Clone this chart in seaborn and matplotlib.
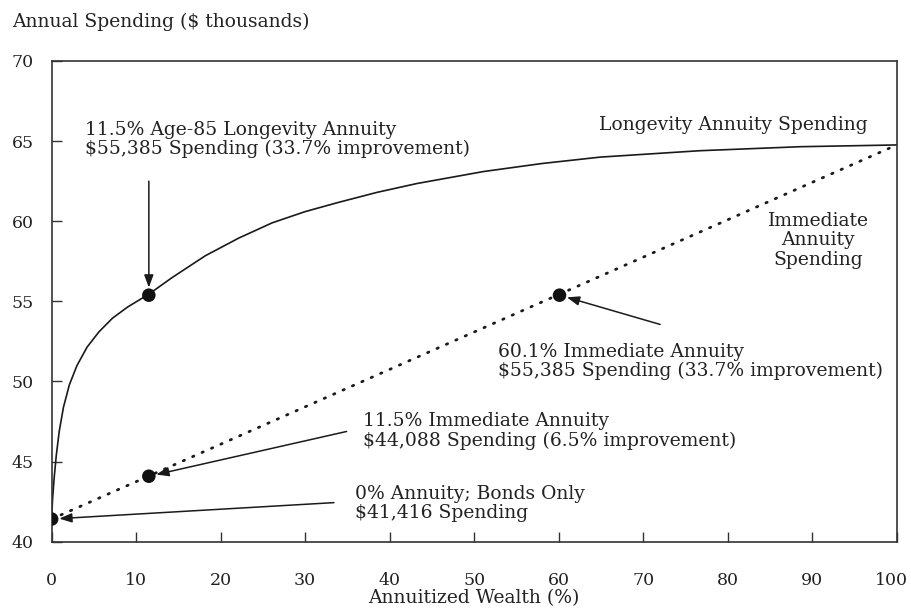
import pandas as pd
import matplotlib.pyplot as plt
import matplotlib.transforms as mtransforms
import seaborn as sns

sns.set_style("ticks")
plt.rcParams["font.family"] = ["DejaVu Serif"]

# ---------------------------------------------------------
# Data
# ---------------------------------------------------------
# longevity annuity spending curve (annuitized wealth %, spending $k)
longevity_x = [0, 0.1, 0.3, 0.55, 0.9, 1.4, 2.1, 3.0, 4.2, 5.6, 7.2, 9.0, 11.5,
               14.3, 18.2, 22.15, 26.1, 30.0, 33.9, 38.5, 43.2, 51.1, 58.0, 64.9, 76.7, 88.6, 100]
longevity_y = [41.416, 42.6, 44.0, 45.4, 46.9, 48.4, 49.8, 51.0, 52.15, 53.1, 53.95, 54.65, 55.45,
               56.5, 57.85, 58.95, 59.9, 60.6, 61.17, 61.8, 62.35, 63.1, 63.6, 64.0, 64.4, 64.65, 64.76]

# immediate annuity spending (straight dotted line)
immediate_x = [0, 100]
immediate_y = [41.416, 64.76]

# highlighted points
point_x = [0, 11.5, 11.5, 60.1]
point_y = [41.416, 44.088, 55.385, 55.385]

labels = [
    "0% Annuity; Bonds Only\n$41,416 Spending",
    "11.5% Immediate Annuity\n$44,088 Spending (6.5% improvement)",
    "11.5% Age-85 Longevity Annuity\n$55,385 Spending (33.7% improvement)",
    "60.1% Immediate Annuity\n$55,385 Spending (33.7% improvement)",
]
label_pos = [(35.9, 42.4), (36.8, 46.9), (3.9, 65.1), (52.8, 51.25)]
arrow_start = [(33.4, 42.44), (34.9, 46.88), (11.5, 62.5), (72.0, 53.56)]

x_ticks = list(range(0, 101, 10))
y_ticks = list(range(40, 71, 5))

curve_df = pd.DataFrame({"wealth": longevity_x, "spending": longevity_y})
line_df = pd.DataFrame({"wealth": immediate_x, "spending": immediate_y})
pts_df = pd.DataFrame({"wealth": point_x, "spending": point_y})

FS = 13.5
INK = "#222222"

# ---------------------------------------------------------
# Plot
# ---------------------------------------------------------
fig = plt.figure(figsize=(9.11, 6.14), dpi=100)
ax = fig.add_axes([0.0567, 0.1177, 0.9276, 0.783])

sns.lineplot(data=curve_df, x="wealth", y="spending", ax=ax, color="#1a1a1a", lw=1.2)
sns.lineplot(data=line_df, x="wealth", y="spending", ax=ax, color="#1a1a1a", lw=2.0,
             linestyle=(0, (0.5, 3.2)), dash_capstyle="round")
sns.scatterplot(data=pts_df, x="wealth", y="spending", ax=ax, color="#111111", s=95,
                edgecolor="none", zorder=5)

for text, (tx, ty), start, px, py in zip(labels, label_pos, arrow_start, point_x, point_y):
    ax.text(tx, ty, text, ha="left", va="center", fontsize=FS, color=INK, linespacing=1.1)
    ax.annotate("", xy=(px, py), xytext=start,
                arrowprops=dict(arrowstyle="-|>,head_length=0.75,head_width=0.28",
                                color="#1a1a1a", lw=1.1, shrinkA=0, shrinkB=5.5))

ax.text(96.6, 66.0, "Longevity Annuity Spending", ha="right", va="center", fontsize=FS, color=INK)
ax.text(90.7, 58.8, "Immediate\nAnnuity\nSpending", ha="center", va="center", fontsize=FS,
        color=INK, linespacing=1.1)

ax.set_xlim(0, 100)
ax.set_ylim(40, 70)
ax.set_xticks(x_ticks)
ax.set_yticks(y_ticks)
ax.set_xlabel("")
ax.set_ylabel("")
ax.tick_params(axis="both", direction="in", length=7, width=1.0, color="#333333",
               labelsize=12.5, labelcolor=INK)
ax.tick_params(axis="x", pad=22)
ax.tick_params(axis="y", pad=13)
for side in ax.spines.values():
    side.set_visible(True)
    side.set_linewidth(1.2)
    side.set_color("#333333")

# nudge the "100" label left so it stays inside the figure
last = ax.get_xticklabels()[-1]
last.set_transform(last.get_transform() + mtransforms.ScaledTranslation(-5 / 100, 0, fig.dpi_scale_trans))

fig.text(12 / 911, 1 - 22 / 614, "Annual Spending ($ thousands)", ha="left", va="center",
         fontsize=FS, color=INK)
fig.text(474 / 911, 1 - 598 / 614, "Annuitized Wealth (%)", ha="center", va="center",
         fontsize=FS, color=INK)

plt.savefig("out.png", dpi=100)
plt.close()
